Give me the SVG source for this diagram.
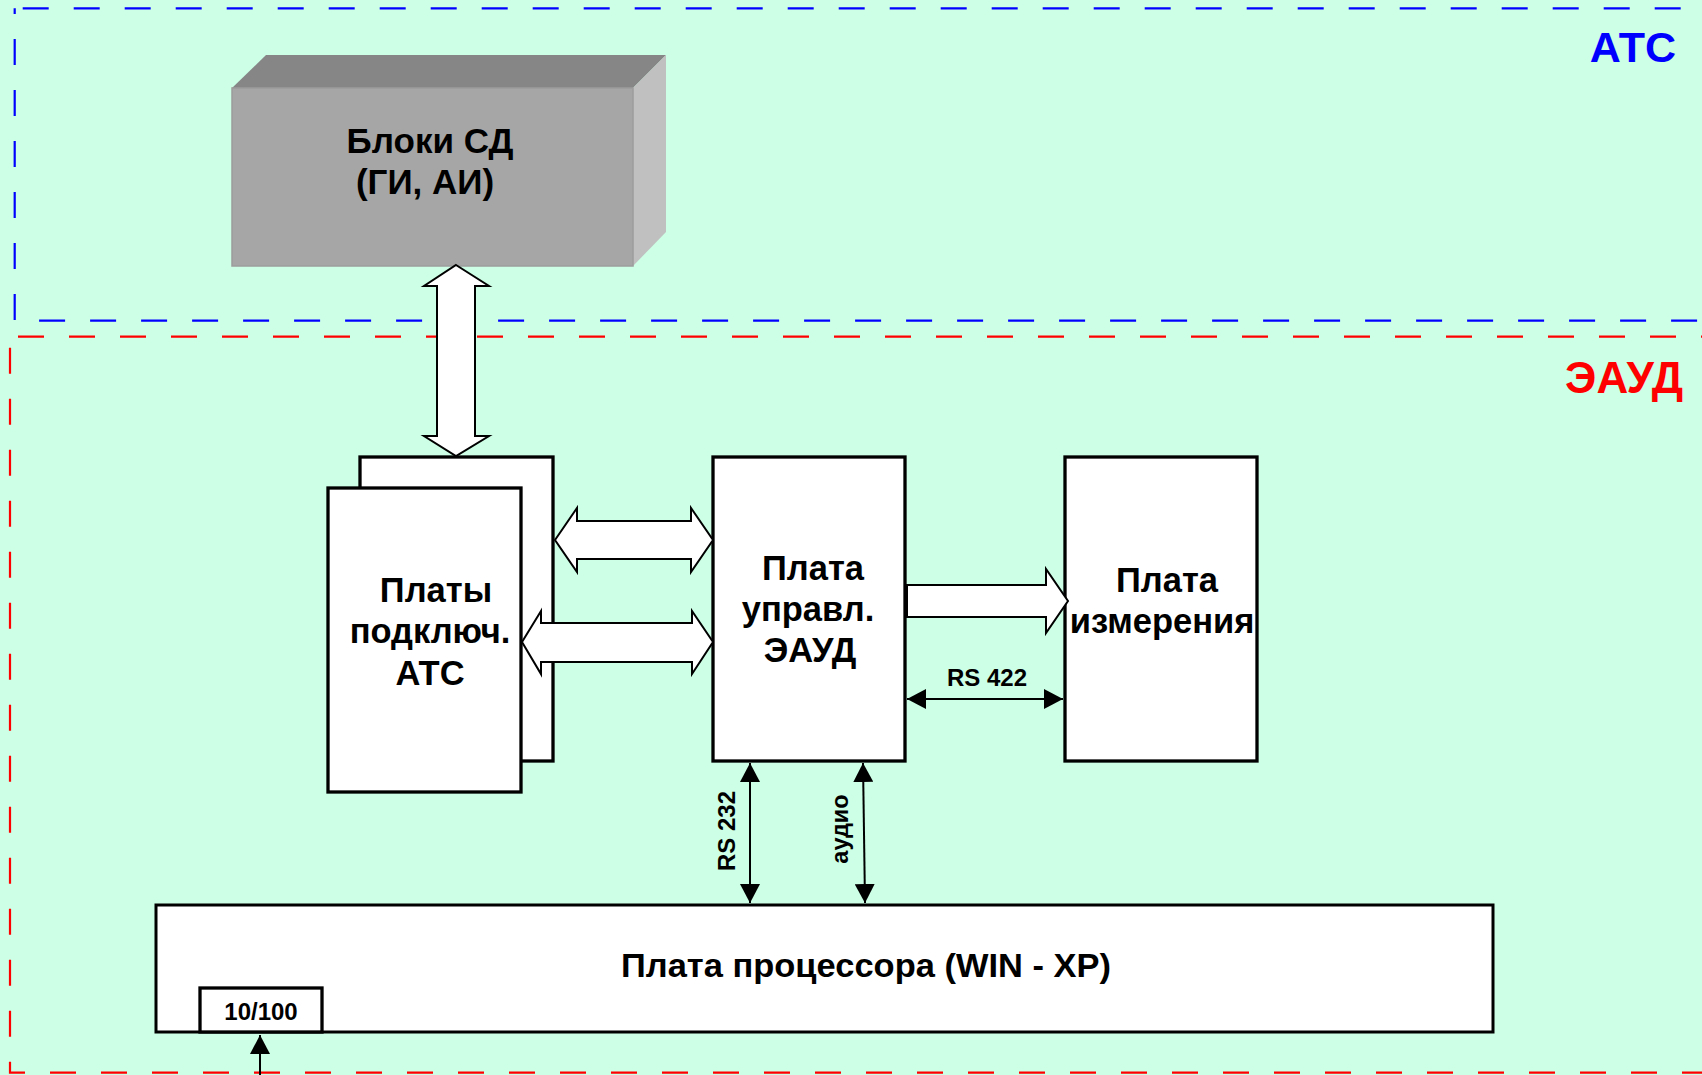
<svg xmlns="http://www.w3.org/2000/svg" width="1702" height="1075" viewBox="0 0 1702 1075">
  <style>
    .t { font-family: "Liberation Sans", Arial, sans-serif; font-weight: bold; fill: #000; text-anchor: middle; }
    .box { fill: #fff; stroke: #000; stroke-width: 3.3; }
    .hollow { fill: #fff; stroke: #000; stroke-width: 2; stroke-linejoin: miter; }
    .line { stroke: #000; stroke-width: 2; fill: none; }
  </style>
  <defs>
    <marker id="ah" viewBox="0 0 19 20" refX="19" refY="10" markerWidth="19" markerHeight="20" markerUnits="userSpaceOnUse" orient="auto-start-reverse">
      <path d="M0,0 L19,10 L0,20 z" fill="#000"/>
    </marker>
  </defs>

  <rect x="0" y="0" width="1702" height="1075" fill="#CCFFE5"/>

  <g id="zones">
    <rect x="14.7" y="8.3" width="1760" height="312.4" fill="none" stroke="#0000FF" stroke-width="2.2" stroke-dasharray="26 25" stroke-dashoffset="-8"/>
    <rect x="10" y="336.7" width="1760" height="736" fill="none" stroke="#FF0000" stroke-width="2.2" stroke-dasharray="26 25" stroke-dashoffset="-8"/>
    <text class="t" x="1676" y="62" font-size="43" style="fill:#0000FF;text-anchor:end">АТС</text>
    <text class="t" x="1683" y="393" font-size="44" style="fill:#FF0000;text-anchor:end">ЭАУД</text>
  </g>

  <g id="bloki-sd">
    <polygon points="232,88 266,55 666,55 633,88" fill="#868686"/>
    <polygon points="633,88 666,55 666,232 633,266" fill="#C0C0C0"/>
    <rect x="232" y="88" width="401" height="178" fill="#A6A6A6" stroke="#9C9C9C" stroke-width="1.5"/>
    <text class="t" x="430" y="153" font-size="35">Блоки СД</text>
    <text class="t" x="425" y="194" font-size="35">(ГИ, АИ)</text>
  </g>

  <g id="platy-podkl">
    <rect class="box" x="360" y="457" width="193" height="304"/>
    <rect class="box" x="328" y="488" width="193" height="304"/>
    <text class="t" x="436" y="602" font-size="34.5">Платы</text>
    <text class="t" x="430" y="643" font-size="34.5">подключ.</text>
    <text class="t" x="430" y="685" font-size="34.5">АТС</text>
  </g>

  <g id="plata-upravl">
    <rect class="box" x="713" y="457" width="192" height="304"/>
    <text class="t" x="813" y="580" font-size="34.5">Плата</text>
    <text class="t" x="808" y="621" font-size="34.5">управл.</text>
    <text class="t" x="810" y="662" font-size="34.5">ЭАУД</text>
  </g>

  <g id="plata-izmer">
    <rect class="box" x="1065" y="457" width="192" height="304"/>
    <text class="t" x="1167" y="592" font-size="34.5">Плата</text>
    <text class="t" x="1162" y="633" font-size="34.5">измерения</text>
  </g>

  <g id="plata-proc">
    <rect class="box" x="156" y="905" width="1337" height="127" style="stroke-width:3"/>
    <text class="t" x="866" y="977" font-size="33" textLength="490" lengthAdjust="spacingAndGlyphs">Плата процессора (WIN - XP)</text>
  </g>

  <g id="port-10-100">
    <rect class="box" x="200" y="988" width="122" height="44"/>
    <text class="t" x="261" y="1020" font-size="24">10/100</text>
  </g>

  <g id="connectors">
    <polygon class="hollow" points="456,265 489,286 475,286 475,436 489,436 456,456 424,436 437,436 437,286 424,286"/>
    <polygon class="hollow" points="555,540 577,508 577,521 691,521 691,508 713,540 691,572 691,559 577,559 577,572"/>
    <polygon class="hollow" points="522,642 541,611 541,623 692,623 692,611 713,642 692,674 692,662 541,662 541,674"/>
    <polygon class="hollow" points="907,585 1046,585 1046,569 1068,601 1046,633 1046,617 907,617"/>
    <line class="line" x1="907" y1="699" x2="1063" y2="699" marker-start="url(#ah)" marker-end="url(#ah)"/>
    <line class="line" x1="750" y1="763" x2="750" y2="903" marker-start="url(#ah)" marker-end="url(#ah)"/>
    <line class="line" x1="863" y1="763" x2="865" y2="903" marker-start="url(#ah)" marker-end="url(#ah)"/>
    <line class="line" x1="260" y1="1075" x2="260" y2="1035" marker-end="url(#ah)"/>
    <text class="t" x="987" y="686" font-size="24">RS 422</text>
    <text class="t" font-size="24" transform="translate(735,831) rotate(-90)">RS 232</text>
    <text class="t" font-size="23.5" transform="translate(848,829) rotate(-90)">аудио</text>
  </g>
</svg>
